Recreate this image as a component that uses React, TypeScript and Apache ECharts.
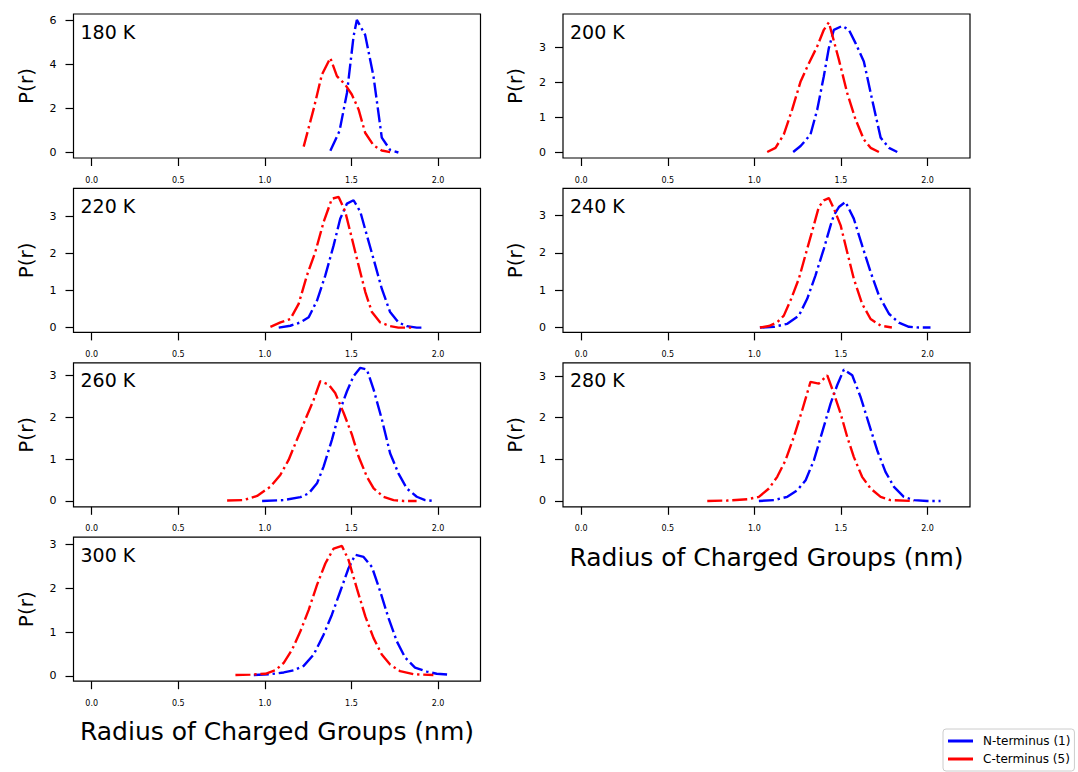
import React, { useEffect, useRef } from "react";
import * as echarts from "echarts";

const panelLabels = ["180 K", "200 K", "220 K", "240 K", "260 K", "280 K", "300 K"];
const xTicks = [0, 0.5, 1.0, 1.5, 2.0];
const yTicksTall = [0, 2, 4, 6];
const yTicksShort = [0, 1, 2, 3];
const yRanges = [
  [-0.25, 6.3],
  [-0.15, 3.95],
  [-0.13, 3.76],
  [-0.13, 3.73],
  [-0.14, 3.3],
  [-0.14, 3.32],
  [-0.12, 3.17],
];
const xRange = [-0.105, 2.245];
const seriesNames = ["N-terminus (1)", "C-terminus (5)"];
const xLabelText = "Radius of Charged Groups (nm)";
const yLabelText = "P(r)";

// N-terminus (blue)
const n180 = [[1.378,0.08],[1.431,0.98],[1.474,2.71],[1.512,5.28],[1.531,6.03],[1.579,5.35],[1.627,3.47],[1.675,0.68],[1.723,0.12],[1.771,0.0]];
const n200 = [[1.224,0.02],[1.267,0.19],[1.324,0.52],[1.363,1.23],[1.401,2.18],[1.43,2.98],[1.459,3.5],[1.507,3.61],[1.546,3.5],[1.584,3.12],[1.632,2.6],[1.68,1.51],[1.729,0.43],[1.777,0.14],[1.825,0.02]];
const n220 = [[1.08,0],[1.147,0.05],[1.205,0.14],[1.253,0.28],[1.301,0.73],[1.349,1.41],[1.397,2.22],[1.435,2.94],[1.474,3.35],[1.512,3.44],[1.551,3.13],[1.589,2.49],[1.627,1.86],[1.675,1.05],[1.723,0.42],[1.771,0.14],[1.819,0.04],[1.877,0],[1.925,0]];
const n240 = [[1.032,0],[1.113,0.02],[1.19,0.1],[1.257,0.32],[1.305,0.77],[1.353,1.4],[1.401,2.11],[1.44,2.74],[1.459,3.01],[1.488,3.23],[1.526,3.37],[1.574,2.92],[1.622,2.2],[1.671,1.49],[1.719,0.86],[1.777,0.37],[1.834,0.13],[1.892,0.02],[1.95,0],[2.017,0]];
const n260 = [[0.984,0],[1.109,0.02],[1.205,0.09],[1.253,0.18],[1.301,0.42],[1.339,0.82],[1.387,1.46],[1.435,2.18],[1.474,2.62],[1.512,2.98],[1.551,3.18],[1.589,3.14],[1.628,2.66],[1.676,1.94],[1.723,1.14],[1.771,0.66],[1.819,0.3],[1.877,0.1],[1.925,0.02],[1.973,0]];
const n280 = [[1.026,0],[1.113,0.02],[1.19,0.1],[1.248,0.26],[1.296,0.5],[1.344,0.98],[1.392,1.66],[1.44,2.34],[1.478,2.78],[1.517,3.16],[1.565,3.02],[1.613,2.5],[1.661,1.86],[1.709,1.22],[1.757,0.7],[1.806,0.34],[1.863,0.1],[1.921,0.02],[1.998,0],[2.075,0]];
const n300 = [[0.936,0.02],[1.032,0.04],[1.109,0.08],[1.166,0.13],[1.224,0.23],[1.282,0.49],[1.339,0.94],[1.387,1.4],[1.435,1.93],[1.483,2.46],[1.522,2.77],[1.57,2.72],[1.618,2.49],[1.666,1.93],[1.714,1.32],[1.762,0.79],[1.81,0.42],[1.867,0.19],[1.935,0.1],[1.992,0.05],[2.06,0.03]];

// C-terminus (red)
const c180 = [[1.224,0.27],[1.281,1.96],[1.329,3.54],[1.378,4.3],[1.416,3.47],[1.464,3.09],[1.502,2.64],[1.541,1.96],[1.579,0.9],[1.627,0.33],[1.675,0.09],[1.723,0.02]];
const c200 = [[1.074,0.02],[1.122,0.14],[1.17,0.52],[1.218,1.23],[1.267,2.03],[1.315,2.55],[1.363,3.03],[1.401,3.5],[1.43,3.71],[1.488,2.65],[1.536,1.7],[1.584,0.95],[1.632,0.38],[1.671,0.14],[1.719,0.02]];
const c220 = [[1.032,0.02],[1.09,0.14],[1.147,0.23],[1.195,0.64],[1.243,1.41],[1.291,2.04],[1.339,2.85],[1.387,3.48],[1.426,3.53],[1.464,3.13],[1.503,2.4],[1.541,1.68],[1.58,0.96],[1.618,0.42],[1.666,0.14],[1.723,0.04],[1.771,0],[1.867,0]];
const c240 = [[1.032,0],[1.084,0.04],[1.132,0.14],[1.17,0.32],[1.209,0.73],[1.257,1.31],[1.305,2.11],[1.343,2.74],[1.372,3.23],[1.401,3.41],[1.43,3.47],[1.459,3.19],[1.498,2.74],[1.536,2.02],[1.574,1.31],[1.622,0.64],[1.671,0.23],[1.729,0.05],[1.794,0]];
const c260 = [[0.782,0.01],[0.878,0.02],[0.955,0.12],[1.032,0.34],[1.089,0.62],[1.137,0.98],[1.185,1.46],[1.233,1.94],[1.282,2.42],[1.32,2.86],[1.368,2.78],[1.406,2.58],[1.455,2.1],[1.503,1.58],[1.541,1.06],[1.589,0.58],[1.628,0.3],[1.685,0.1],[1.743,0.02],[1.8,0],[1.876,0]];
const c280 = [[0.728,0],[0.843,0.01],[0.959,0.04],[1.026,0.1],[1.084,0.3],[1.132,0.58],[1.18,0.98],[1.228,1.54],[1.276,2.18],[1.324,2.86],[1.372,2.82],[1.421,3.02],[1.459,2.58],[1.498,2.1],[1.536,1.54],[1.574,1.06],[1.622,0.58],[1.671,0.3],[1.729,0.1],[1.786,0.02],[1.921,0]];
const c300 = [[0.83,0.02],[0.916,0.03],[1.003,0.05],[1.061,0.13],[1.109,0.3],[1.157,0.6],[1.205,1.02],[1.253,1.51],[1.301,2.08],[1.349,2.57],[1.397,2.91],[1.445,2.97],[1.483,2.65],[1.531,2.0],[1.58,1.36],[1.627,0.87],[1.675,0.49],[1.723,0.26],[1.781,0.11],[1.858,0.04],[1.973,0.02]];

const nData = [n180, n200, n220, n240, n260, n280, n300];
const cData = [c180, c200, c220, c240, c260, c280, c300];

const FONT = "DejaVu Sans";
const BLUE = "#0000ff";
const RED = "#ff0000";
const DASH = [15, 3.8, 2.4, 3.8];

export default function App() {
  const ref = useRef<HTMLDivElement>(null);
  useEffect(() => {
    document.body.style.margin = "0";
    const chart = echarts.init(ref.current!, null, { renderer: "svg" });
    const grids: any[] = [];
    const xAxes: any[] = [];
    const yAxes: any[] = [];
    const series: any[] = [];
    const graphics: any[] = [];
    panelLabels.forEach((lab, i) => {
      const r = Math.floor(i / 2);
      const c = i % 2;
      const left = c === 0 ? 73.5 : 563;
      const top = 14 + r * 174.4;
      const width = 407;
      const height = 144;
      grids.push({
        left, top, width, height,
        show: true, borderColor: "#000", borderWidth: 1.2, backgroundColor: "transparent",
        containLabel: false,
      });
      const showXName = i === 5 || i === 6;
      xAxes.push({
        type: "value", gridIndex: i, min: xRange[0], max: xRange[1],
        position: "bottom",
        name: showXName ? xLabelText : "",
        nameLocation: "middle", nameGap: 38,
        nameTextStyle: { fontFamily: FONT, fontSize: 25, color: "#000" },
        splitLine: { show: false },
        axisLine: { show: false, onZero: false },
        axisTick: { show: true, inside: false, customValues: xTicks, length: 8, lineStyle: { color: "#000", width: 1.2 } },
        axisLabel: { show: true, customValues: xTicks, formatter: (v: number) => v.toFixed(1), fontFamily: FONT, fontSize: 8, color: "#000", margin: 18 },
      });
      const ticks = i === 0 ? yTicksTall : yTicksShort;
      yAxes.push({
        type: "value", gridIndex: i, min: yRanges[i][0], max: yRanges[i][1],
        position: "left",
        name: yLabelText, nameLocation: "middle", nameGap: 38, nameRotate: 90,
        nameTextStyle: { fontFamily: FONT, fontSize: 20, color: "#000" },
        splitLine: { show: false },
        axisLine: { show: false, onZero: false },
        axisTick: { show: true, inside: false, customValues: ticks, length: 8, lineStyle: { color: "#000", width: 1.2 } },
        axisLabel: { show: true, customValues: ticks, formatter: (v: number) => String(v), fontFamily: FONT, fontSize: 11, color: "#000", margin: 17 },
      });
      series.push({
        type: "line", name: seriesNames[0], xAxisIndex: i, yAxisIndex: i,
        data: nData[i], showSymbol: false, symbol: "none",
        lineStyle: { color: BLUE, width: 2.4, type: DASH }, itemStyle: { color: BLUE },
      });
      series.push({
        type: "line", name: seriesNames[1], xAxisIndex: i, yAxisIndex: i,
        data: cData[i], showSymbol: false, symbol: "none",
        lineStyle: { color: RED, width: 2.4, type: DASH }, itemStyle: { color: RED },
      });
      graphics.push({
        type: "text", left: left + 7, top: top + 8,
        style: { text: lab, fontFamily: FONT, fontSize: 19, fill: "#000" },
      });
    });
    chart.setOption({
      animation: false,
      backgroundColor: "#fff",
      grid: grids,
      xAxis: xAxes,
      yAxis: yAxes,
      series,
      graphic: graphics,
      legend: {
        data: seriesNames,
        orient: "vertical",
        left: 943, top: 729,
        icon: "rect",
        itemWidth: 25, itemHeight: 3, itemGap: 4,
        padding: [5, 4, 5, 5],
        borderColor: "#cccccc", borderWidth: 1, borderRadius: 3,
        backgroundColor: "#fff",
        textStyle: { fontFamily: FONT, fontSize: 12, color: "#000", padding: [0, 0, 0, 5], lineHeight: 14 },
      },
    });
    return () => chart.dispose();
  }, []);
  return <div ref={ref} style={{ width: 1078, height: 772 }} />;
}
